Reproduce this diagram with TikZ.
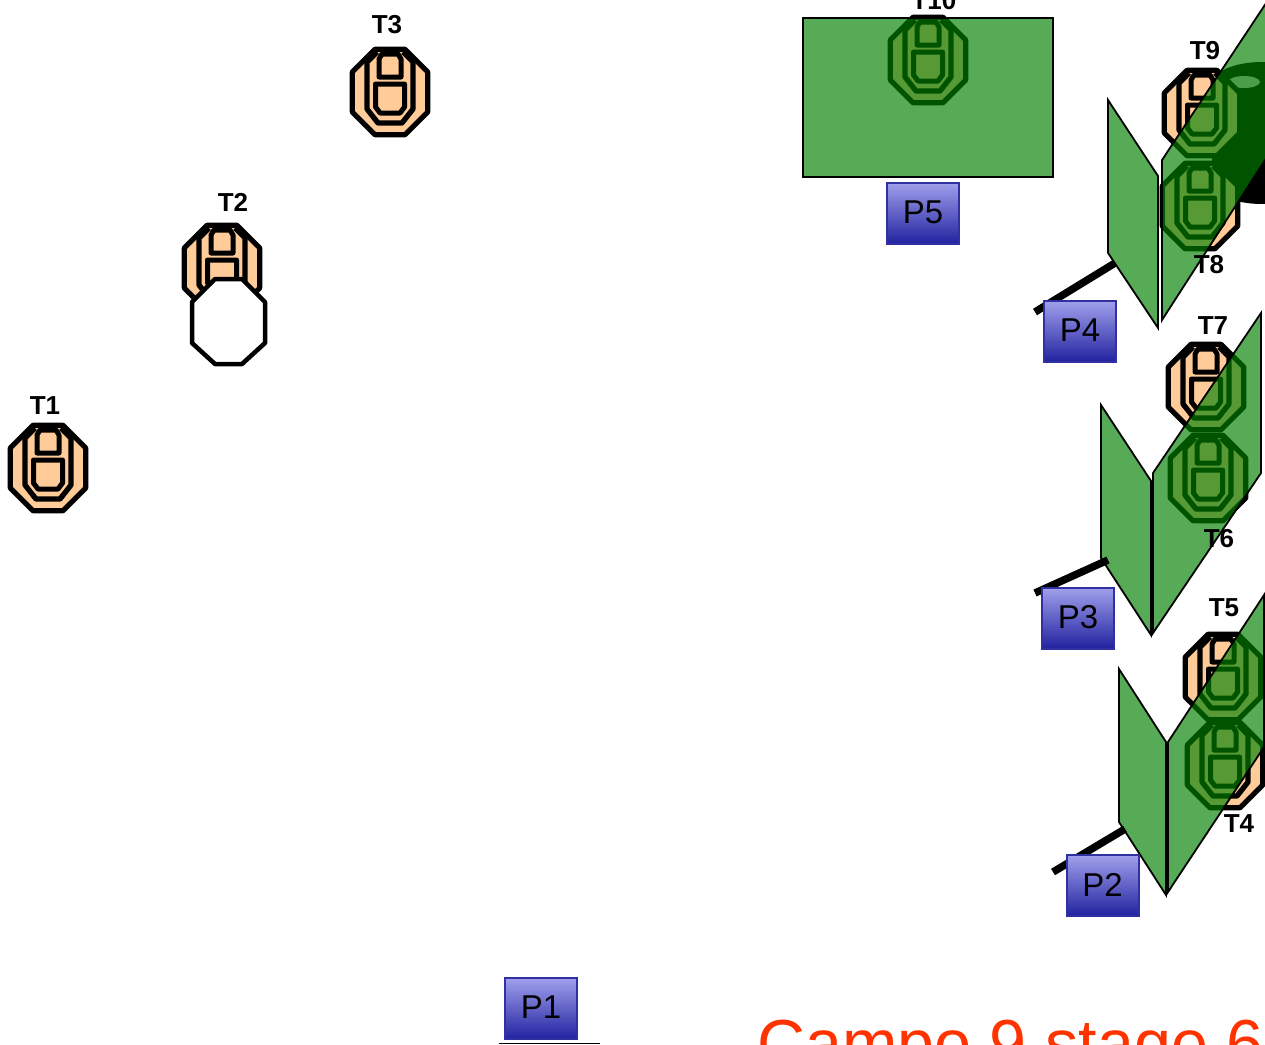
\documentclass[tikz,border=0pt]{standalone}
\usepackage{fontspec}
\setmainfont{Liberation Sans}
\definecolor{peach}{RGB}{255,204,153}
\definecolor{panelgreen}{RGB}{0,128,0}
\definecolor{boxedge}{RGB}{48,48,160}
\definecolor{boxtop}{RGB}{160,160,236}
\definecolor{boxbot}{RGB}{34,34,160}
\definecolor{titlered}{RGB}{255,51,0}
\tikzset{
  tlabel/.style={font=\fontsize{26}{26}\selectfont\bfseries,inner sep=0pt,text=black},
  pbox/.style={draw=boxedge,line width=2pt,top color=boxtop,bottom color=boxbot,minimum width=72pt,minimum height=61pt,inner sep=0pt,font=\fontsize{33}{33}\selectfont,text=black},
  panel/.style={fill=panelgreen,fill opacity=.66,draw=black,line width=1.8pt,line join=miter},
  stand/.style={line width=7.5pt,draw=black},
  target/.pic={
    \draw[fill=peach,line width=5.2pt,line join=round] (-15,-42.7)--(15,-42.7)--(37.7,-20)--(37.7,20)--(15,42.7)--(-15,42.7)--(-37.7,20)--(-37.7,-20)--cycle;
    \draw[line width=5.3pt,line join=round] (-13,-40)--(-23,-30)--(-23,17)--(-12,31)--(12,31)--(23,17)--(23,-30)--(13,-40);
    \draw[fill=peach,line width=5pt,line join=round] (-8,-38)--(8,-38)--(11,-33)--(11,-15)--(-11,-15)--(-11,-33)--cycle;
    \draw[fill=peach,line width=5pt,line join=round] (-14.5,-8)--(14.5,-8)--(14.5,15)--(10,21)--(-10,21)--(-14.5,15)--cycle;
  }
}
\begin{document}
\begin{tikzpicture}[x=1pt,y=-1pt]
\useasboundingbox (0,0) rectangle (1265,1044);
\clip (0,0) rectangle (1265,1044);
% cylinder
\fill[black] (1262,84) ellipse[x radius=50,y radius=22];
\fill[black] (1262,182) ellipse[x radius=50,y radius=22];
\fill[black] (1212,84) rectangle (1312,182);
\fill[black!15] (1244,82) ellipse[x radius=16,y radius=6];
% targets
\pic at (48,468) {target};
\pic at (222,268) {target};
\pic at (390,92) {target};
\pic at (1225,765) {target};
\pic at (1223,677) {target};
\pic at (1208,478) {target};
\pic at (1206,387) {target};
\pic at (1200,206) {target};
\pic at (1202,113) {target};
\pic at (928,60) {target};
% white octagon
\draw[fill=white,line width=4.5pt,line join=round] (215,279)--(242,279)--(265,302)--(265,343)--(242,364)--(215,364)--(192,343)--(192,302)--cycle;
% panels
\path[panel] (803,18) rectangle (1053,177);
\path[panel] (1108,100)--(1158,176)--(1158,328)--(1108,253)--cycle;
\path[panel] (1162,160)--(1300,-48)--(1300,106)--(1162,320)--cycle;
\path[panel] (1101,405)--(1151,481)--(1151,635)--(1101,558)--cycle;
\path[panel] (1153,473)--(1261,313)--(1261,473)--(1153,633)--cycle;
\path[panel] (1119,669)--(1166,742)--(1166,895)--(1119,822)--cycle;
\path[panel] (1168,742)--(1264,595)--(1264,747)--(1168,892)--cycle;
% labels
\node[tlabel] (t1) at (45,406) {T1};
\node[tlabel] (t2) at (233,202) {T2};
\node[tlabel] (t3) at (387,25) {T3};
\node[tlabel] (t4) at (1239,824) {T4};
\node[tlabel] (t5) at (1224,608) {T5};
\node[tlabel] (t6) at (1219,539) {T6};
\node[tlabel] (t7) at (1213,326) {T7};
\node[tlabel] (t8) at (1209,265) {T8};
\node[tlabel] (t9) at (1205,51) {T9};
\node[tlabel] (t10) at (934,1) {T10};
% stands
\coordinate (s4a) at (1035,312); \coordinate (s4b) at (1115,263);
\coordinate (s3a) at (1035,593); \coordinate (s3b) at (1108,560);
\coordinate (s2a) at (1053,872); \coordinate (s2b) at (1125,829);
\draw[stand] (s4a)--(s4b);
\draw[stand] (s3a)--(s3b);
\draw[stand] (s2a)--(s2b);
% boxes
\node[pbox] (p1) at (541,1008.5) {\raisebox{2pt}{P1}};
\node[pbox] (p2) at (1102.5,885.5) {\raisebox{2pt}{P2}};
\node[pbox] (p3) at (1078,618) {\raisebox{2pt}{P3}};
\node[pbox] (p4) at (1080,331.5) {\raisebox{2pt}{P4}};
\node[pbox] (p5) at (923,213) {\raisebox{2pt}{P5}};
\coordinate (ra) at (499,1043.5); \coordinate (rb) at (600,1043.5);
\draw[line width=1pt] (ra)--(rb);
\node[anchor=base west,inner sep=0pt,text=titlered,font=\fontsize{66.5}{66.5}\selectfont] (title) at (757,1066) {Campo 9 stage 6};
\end{tikzpicture}
\end{document}
